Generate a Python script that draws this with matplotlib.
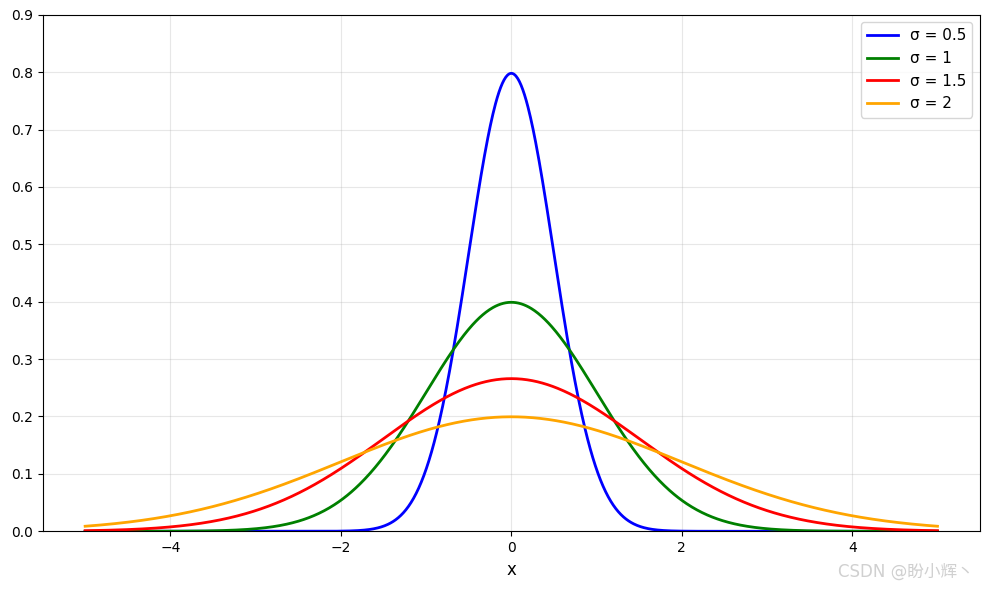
import numpy as np
import matplotlib

matplotlib.use("Agg")
import matplotlib.pyplot as plt

plt.rcParams["font.family"] = ["DejaVu Sans", "Noto Sans CJK SC"]

sigmas = [0.5, 1, 1.5, 2]
colors = ["blue", "green", "red", "orange"]
labels = ["σ = 0.5", "σ = 1", "σ = 1.5", "σ = 2"]
x_min, x_max = -5, 5

x = np.linspace(x_min, x_max, 1000)

fig, ax = plt.subplots(figsize=(9.89, 5.89), dpi=100)
for s, c, lab in zip(sigmas, colors, labels):
    y = np.exp(-x ** 2 / (2 * s ** 2)) / (s * np.sqrt(2 * np.pi))
    ax.plot(x, y, color=c, lw=2, label=lab)

ax.set_xlim(-5.5, 5.5)
ax.set_ylim(0, 0.9)
ax.set_xticks([-4, -2, 0, 2, 4])
ax.set_xlabel("x", fontsize=12)
ax.grid(True, alpha=0.3)
ax.legend(loc="upper right", fontsize=11)

fig.subplots_adjust(left=0.043, right=0.991, top=0.975, bottom=0.098)
fig.text(0.985, 0.03, "CSDN @盼小辉丶", ha="right", va="center",
         fontsize=12, color="#d0d0d0",
         family=["DejaVu Sans", "Noto Sans CJK SC"])
fig.savefig("out.png", dpi=100)
